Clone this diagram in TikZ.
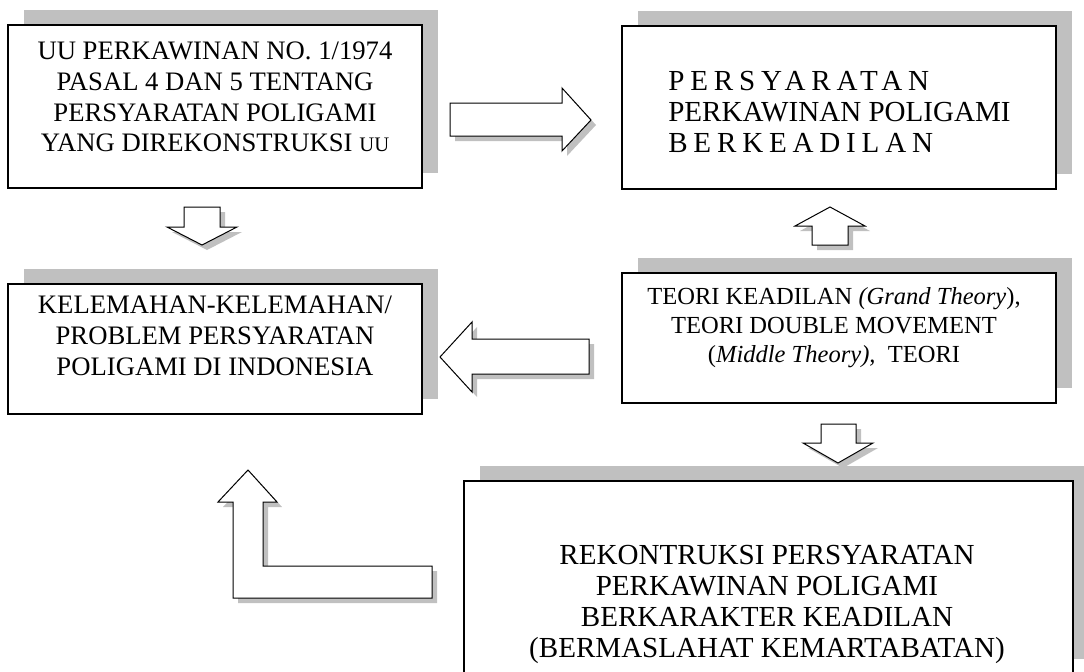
\documentclass[tikz,border=0pt]{standalone}
\usepackage{fontspec}
\setmainfont{Liberation Serif}
\usetikzlibrary{positioning,fit,shadows}
\definecolor{shade}{RGB}{192,192,192}
\tikzset{
  panel/.style={draw=black, fill=white, line width=0.9pt, inner sep=0pt,
    drop shadow={shadow xshift=12pt, shadow yshift=11.25pt, fill=shade, opacity=1}},
  panel text/.style={align=center, inner sep=0pt, font=\fontsize{20}{23}\selectfont},
  big text/.style={align=center, inner sep=0pt, font=\fontsize{21.8}{23.3}\selectfont},
  small text/.style={align=center, inner sep=0pt, font=\fontsize{18.4}{21.75}\selectfont},
  block arrow/.style={draw=black, fill=white, line width=0.75pt, line join=miter,
    drop shadow={shadow xshift=3.75pt, shadow yshift=-3.75pt, fill=shade, opacity=1}}
}
\newcommand\spread[1]{{\addfontfeature{LetterSpace=20}#1}}

\begin{document}
\begin{tikzpicture}[x=0.75pt, y=-0.75pt]
\useasboundingbox (0,0) rectangle (1084,671);

% boxes
\node [panel, fit={(8,25) (422,188)}] (uu) {};
\node [panel, fit={(622,26) (1056,189)}] (syarat) {};
\node [panel, fit={(8,284) (422,414)}] (lemah) {};
\node [panel, fit={(622,273) (1056,403)}] (teori) {};
\node [panel, fit={(464,481) (1073,674)}] (rekon) {};

% texts
\node [panel text, anchor=north] (uu-text) at (215,42)
  {UU PERKAWINAN NO. 1/1974 \\ PASAL 4 DAN 5 TENTANG \\ PERSYARATAN POLIGAMI \\
   YANG DIREKONSTRUKSI {\fontsize{15.5}{23}\selectfont UU}};
\node [big text, align=left, anchor=north west] (syarat-text) at (668,71)
  {\spread{PERSYARATAN} \\ PERKAWINAN POLIGAMI \\ \spread{BERKEADILAN}};
\node [panel text, anchor=north] (lemah-text) at (215,296)
  {KELEMAHAN-KELEMAHAN/ \\ PROBLEM PERSYARATAN \\ POLIGAMI DI INDONESIA};
\node [small text, anchor=north] (teori-text) at (834,287)
  {TEORI KEADILAN \textit{(Grand Theory}), \\ TEORI DOUBLE MOVEMENT \\
   (\textit{Middle Theory),}\ \ TEORI};
\node [big text, anchor=north] (rekon-text) at (767,545)
  {REKONTRUKSI PERSYARATAN \\ PERKAWINAN POLIGAMI \\ BERKARAKTER KEADILAN \\
   (BERMASLAHAT KEMARTABATAN)};

% block arrows
\draw [block arrow] (450,103) -- (562,103) -- (562,88) -- (591,120)
  -- (562,151) -- (562,136) -- (450,136) -- cycle;
\draw [block arrow] (184,207) -- (220,207) -- (220,227) -- (237,227)
  -- (202,245) -- (167,227) -- (184,227) -- cycle;
\draw [block arrow] (830,207) -- (865,226) -- (848,226) -- (848,245)
  -- (812,245) -- (812,226) -- (795,226) -- cycle;
\draw [block arrow] (440,357) -- (472,322) -- (472,339) -- (589,339)
  -- (589,374) -- (472,374) -- (472,392) -- cycle;
\draw [block arrow] (821,424) -- (856,424) -- (856,443) -- (873,443)
  -- (838,463) -- (803,443) -- (821,443) -- cycle;
\draw [block arrow] (248,470) -- (277,502) -- (263,502) -- (263,566)
  -- (432,566) -- (432,598) -- (233,598) -- (233,502) -- (218,502) -- cycle;

\end{tikzpicture}
\end{document}
